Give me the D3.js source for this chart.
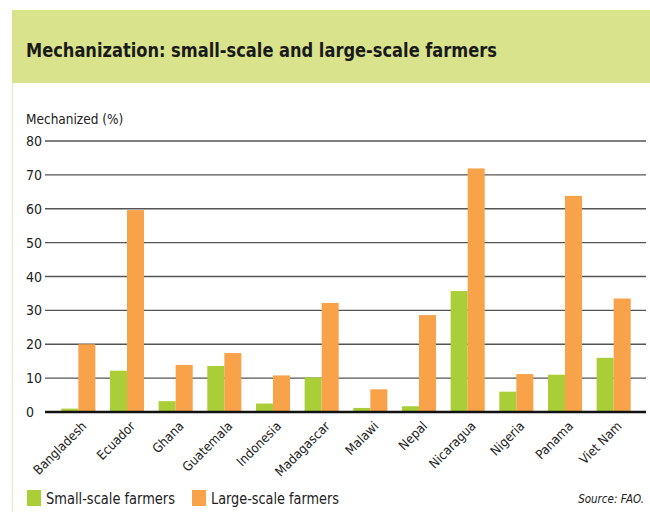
<!DOCTYPE html>
<html>
<head>
<meta charset="utf-8">
<script src="https://cdn.jsdelivr.net/npm/d3@7"></script>
<style>
  body { margin: 0; background: #fff; }
  svg { display: block; }
  text { font-family: "DejaVu Sans Condensed", "DejaVu Sans", sans-serif; fill: #222; }
</style>
</head>
<body>
<div id="chart"></div>
<script>
// data
var countries = ["Bangladesh", "Ecuador", "Ghana", "Guatemala", "Indonesia", "Madagascar",
  "Malawi", "Nepal", "Nicaragua", "Nigeria", "Panama", "Viet Nam"];
var smallScale = [1, 12.2, 3.2, 13.6, 2.5, 10.2, 1.2, 1.7, 35.7, 6.0, 11.0, 16.0];
var largeScale = [20, 59.6, 13.9, 17.4, 10.8, 32.2, 6.7, 28.6, 71.9, 11.2, 63.8, 33.5];
var seriesNames = ["Small-scale farmers", "Large-scale farmers"];
var yTicks = [0, 10, 20, 30, 40, 50, 60, 70, 80];

var W = 650, H = 512;
var green = "#a9ce38", orange = "#f8a249";

var svg = d3.select("#chart").append("svg")
  .attr("width", W)
  .attr("height", H);

// title banner
svg.append("rect")
  .attr("x", 12).attr("y", 10)
  .attr("width", W - 12).attr("height", 73)
  .attr("fill", "#d9e38c");
svg.append("line")
  .attr("x1", 12.5).attr("x2", 12.5)
  .attr("y1", 83).attr("y2", H)
  .attr("stroke", "#ecebd2").attr("stroke-width", 1.5);

svg.append("text")
  .attr("x", 26).attr("y", 57)
  .attr("font-size", 20)
  .attr("font-weight", "bold")
  .attr("textLength", 471)
  .attr("lengthAdjust", "spacingAndGlyphs")
  .style("fill", "#1a1a1a")
  .text("Mechanization: small-scale and large-scale farmers");

// scales
var x = d3.scaleBand()
  .domain(countries)
  .range([54, 638])
  .paddingInner(0.3)
  .paddingOuter(0.15);
var xs = d3.scaleBand()
  .domain([0, 1])
  .range([0, x.bandwidth()]);
var y = d3.scaleLinear()
  .domain([0, 80])
  .range([412, 141]);

// y label
svg.append("text")
  .attr("x", 26).attr("y", 124)
  .attr("font-size", 13.5)
  .text("Mechanized (%)");

// gridlines
svg.append("g").selectAll("line")
  .data(yTicks.filter(function(d) { return d > 0; }))
  .enter().append("line")
  .attr("x1", 45).attr("x2", 646)
  .attr("y1", function(d) { return y(d); })
  .attr("y2", function(d) { return y(d); })
  .attr("stroke", "#555")
  .attr("stroke-width", 1.4);

svg.append("g").selectAll("text")
  .data(yTicks)
  .enter().append("text")
  .attr("x", 26)
  .attr("y", function(d) { return y(d) + 5; })
  .attr("font-size", 14)
  .text(function(d) { return d; });

// bars
var groups = svg.append("g").selectAll("g")
  .data(countries)
  .enter().append("g")
  .attr("transform", function(d) { return "translate(" + x(d) + ",0)"; });

groups.append("rect")
  .attr("x", xs(0))
  .attr("width", xs.bandwidth())
  .attr("y", function(d, i) { return y(smallScale[i]); })
  .attr("height", function(d, i) { return y(0) - y(smallScale[i]); })
  .attr("fill", green);

groups.append("rect")
  .attr("x", xs(1))
  .attr("width", xs.bandwidth())
  .attr("y", function(d, i) { return y(largeScale[i]); })
  .attr("height", function(d, i) { return y(0) - y(largeScale[i]); })
  .attr("fill", orange);

// baseline
svg.append("line")
  .attr("x1", 45).attr("x2", 646)
  .attr("y1", y(0)).attr("y2", y(0))
  .attr("stroke", "#111")
  .attr("stroke-width", 2.5);

// category labels
svg.append("g").selectAll("text")
  .data(countries)
  .enter().append("text")
  .attr("text-anchor", "end")
  .attr("font-size", 13)
  .attr("transform", function(d) {
    return "translate(" + (x(d) + x.bandwidth() / 2 + 9) + "," + 427 + ") rotate(-45)";
  })
  .text(function(d) { return d; });

// legend
var legendX = [27, 192];
var legendW = [129, 128];
var legend = svg.append("g").selectAll("g")
  .data(seriesNames)
  .enter().append("g")
  .attr("transform", function(d, i) { return "translate(" + legendX[i] + ",490)"; });
legend.append("rect")
  .attr("width", 14).attr("height", 16)
  .attr("fill", function(d, i) { return i == 0 ? green : orange; });
legend.append("text")
  .attr("x", 19).attr("y", 14)
  .attr("font-size", 15)
  .attr("textLength", function(d, i) { return legendW[i]; })
  .attr("lengthAdjust", "spacingAndGlyphs")
  .text(function(d) { return d; });

svg.append("text")
  .attr("x", 644).attr("y", 503)
  .attr("text-anchor", "end")
  .attr("font-size", 11.5)
  .attr("font-style", "italic")
  .text("Source: FAO.");
</script>
</body>
</html>
